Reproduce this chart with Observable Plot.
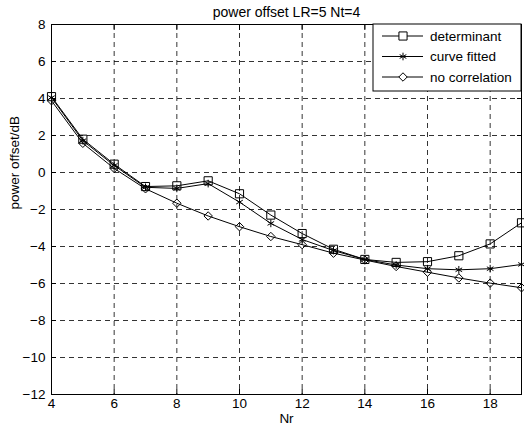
<!DOCTYPE html>
<html><head><meta charset="utf-8">
<script src="https://cdn.jsdelivr.net/npm/d3@7"></script>
<script src="https://cdn.jsdelivr.net/npm/@observablehq/plot@0.6"></script>
<style>body{margin:0;background:#fff} svg{font-family:"Liberation Sans",Arial,sans-serif}</style>
</head><body><div id="chart"></div>
<script>
const nr = [4,5,6,7,8,9,10,11,12,13,14,15,16,17,18,19];
const determinant   = [4.1,1.8,0.45,-0.76,-0.72,-0.45,-1.15,-2.3,-3.3,-4.15,-4.7,-4.86,-4.82,-4.5,-3.86,-2.72];
const curveFitted   = [4.05,1.72,0.38,-0.8,-0.86,-0.6,-1.6,-2.75,-3.62,-4.22,-4.7,-5.0,-5.2,-5.26,-5.2,-4.97];
const noCorrelation = [3.88,1.58,0.22,-0.88,-1.66,-2.35,-2.93,-3.46,-3.9,-4.36,-4.73,-5.08,-5.39,-5.7,-5.98,-6.23];
const seriesNames = ["determinant","curve fitted","no correlation"];
const seriesSymbols = ["square","asterisk","diamond2"];
const seriesR = [4.6,3.6,3.8];
const xTicks = [4,6,8,10,12,14,16,18];
const yTicks = [-12,-10,-8,-6,-4,-2,0,2,4,6,8];
const titleText = "power offset LR=5 Nt=4";
const xLabel = "Nr";
const yLabel = "power offset/dB";

const allSeries = [determinant, curveFitted, noCorrelation];
const rows = [];
allSeries.forEach((vals, i) => vals.forEach((v, j) => rows.push({nr: nr[j], value: v, series: seriesNames[i]})));

const symMap = {square: d3.symbolSquare, asterisk: d3.symbolAsterisk, diamond2: d3.symbolDiamond2};

function legendMark(index, scales, values, dims) {
  const g = d3.create("svg:g");
  const x0 = 373, y0 = dims.marginTop, w = dims.width - dims.marginRight - 373, h = 67;
  g.append("rect").attr("x", x0).attr("y", y0).attr("width", w).attr("height", h)
    .attr("fill", "#fff").attr("stroke", "#000");
  seriesNames.forEach((name, i) => {
    const cy = y0 + 12 + i * 20.5;
    g.append("line").attr("x1", x0 + 9).attr("x2", x0 + 50).attr("y1", cy).attr("y2", cy)
      .attr("stroke", "#000");
    g.append("path").attr("d", d3.symbol(symMap[seriesSymbols[i]], Math.PI * seriesR[i] ** 2)())
      .attr("transform", `translate(${x0 + 30},${cy})`).attr("fill", "#fff").attr("stroke", "#000");
    g.append("text").attr("x", x0 + 57).attr("y", cy).attr("dy", "0.35em")
      .attr("text-anchor", "start").attr("font-size", 13.5).attr("fill", "#000").text(name);
  });
  return g.node();
}

const dotMarks = seriesNames.map((name, i) =>
  Plot.dot(rows.filter(d => d.series === name), {
    x: "nr", y: "value", symbol: seriesSymbols[i], r: seriesR[i], stroke: "#000", fill: "none", strokeWidth: 1
  })
);

const chart = Plot.plot({
  width: 524, height: 426,
  marginLeft: 51, marginRight: 3, marginTop: 24, marginBottom: 32,
  style: {fontSize: "13px", fontFamily: "'Liberation Sans', Arial, sans-serif", color: "#000", background: "#fff"},
  x: {domain: [4, 19]},
  y: {domain: [-12, 8]},
  marks: [
    Plot.ruleX(xTicks, {x: d => d, stroke: "#000", strokeDasharray: "5,4", strokeWidth: 0.8}),
    Plot.ruleY(yTicks, {y: d => d, stroke: "#000", strokeDasharray: "5,4", strokeWidth: 0.8}),
    Plot.line(rows, {x: "nr", y: "value", z: "series", stroke: "#000", strokeWidth: 1}),
    ...dotMarks,
    Plot.axisX(xTicks, {anchor: "bottom", tickSize: 0, tickPadding: 4, label: null, fontSize: 13.5}),
    Plot.axisY(yTicks, {anchor: "left", tickSize: 0, tickPadding: 6, label: null, fontSize: 13.5}),
    Plot.axisX(xTicks, {anchor: "bottom", tickSize: -5, tickFormat: () => "", label: null}),
    Plot.axisX(xTicks, {anchor: "top", tickSize: -5, tickFormat: () => "", label: null}),
    Plot.axisY(yTicks, {anchor: "left", tickSize: -5, tickFormat: () => "", label: null}),
    Plot.axisY(yTicks, {anchor: "right", tickSize: -5, tickFormat: () => "", label: null}),
    Plot.frame({stroke: "#000", strokeWidth: 1}),
    legendMark,
    Plot.text([titleText], {frameAnchor: "top", lineAnchor: "middle", dy: -12, fontSize: 14, fill: "#000"}),
    Plot.text([xLabel], {frameAnchor: "bottom", lineAnchor: "middle", dy: 24, fontSize: 13.5, fill: "#000"}),
    Plot.text([yLabel], {frameAnchor: "left", dx: -37, rotate: -90, fontSize: 13.5, fill: "#000"})
  ]
});
document.getElementById("chart").appendChild(chart);
</script>
</body></html>
